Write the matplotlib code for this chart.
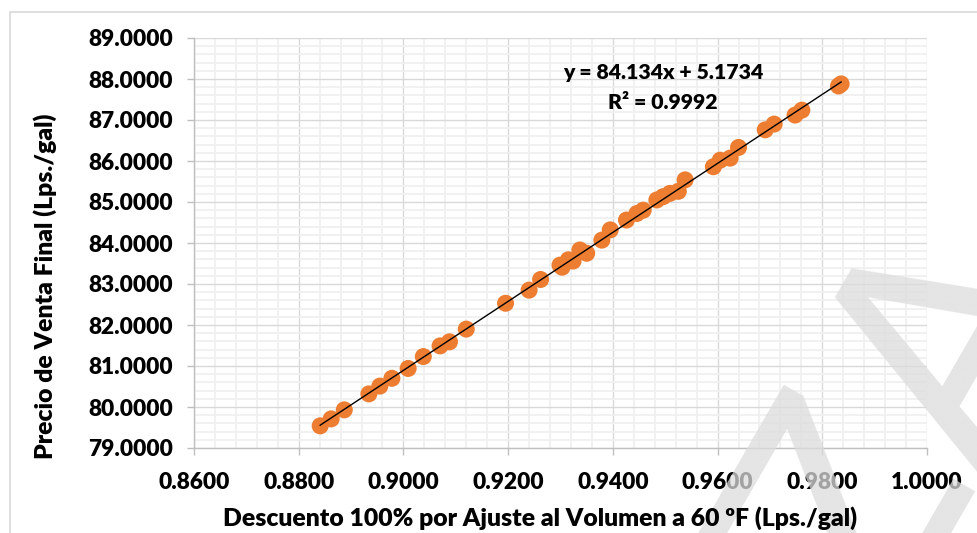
import matplotlib
matplotlib.use("Agg")
import matplotlib.pyplot as plt
import numpy as np
from matplotlib.patches import Rectangle
from matplotlib.ticker import MultipleLocator, FormatStrFormatter

# Descuento por ajuste al volumen a 60 ºF (Lps./gal)
descuento = [
    0.8841, 0.8862, 0.8887, 0.8934, 0.8955, 0.8978, 0.9009, 0.9038, 0.9070, 0.9088,
    0.9120, 0.9195, 0.9240, 0.9262, 0.9299, 0.9303, 0.9315, 0.9324, 0.9337, 0.9350,
    0.9379, 0.9395, 0.9426, 0.9446, 0.9458, 0.9484, 0.9496, 0.9509, 0.9525, 0.9538,
    0.9592, 0.9605, 0.9624, 0.9640, 0.9691, 0.9708, 0.9748, 0.9761, 0.9831, 0.9836,
]
# Precio de venta final (Lps./gal)
precio = [
    79.54, 79.71, 79.93, 80.32, 80.51, 80.70, 80.94, 81.23, 81.49, 81.59,
    81.90, 82.53, 82.85, 83.11, 83.46, 83.41, 83.59, 83.56, 83.83, 83.75,
    84.07, 84.32, 84.56, 84.72, 84.80, 85.05, 85.13, 85.21, 85.26, 85.54,
    85.86, 86.02, 86.07, 86.33, 86.76, 86.90, 87.12, 87.24, 87.83, 87.88,
]

# Linear trendline coefficients
pendiente = 84.134
intercepto = 5.1734
r2 = 0.9992

plt.rcParams["font.family"] = ["Lato", "DejaVu Sans"]
PESO = "heavy"

fig = plt.figure(figsize=(9.77, 5.33), dpi=100)
ax = fig.add_axes([194 / 977, 1 - 448 / 533, (927 - 194) / 977, (448 - 38) / 533])

# Chart-area border
fig.add_artist(Rectangle((10 / 977, -0.1), 1.2, 1 - 12 / 533 + 0.1,
                         transform=fig.transFigure, fill=False,
                         edgecolor="#d9d9d9", linewidth=1.2, zorder=0))

# Watermark
fig.text(0.925, 0.20, "ZA", fontsize=215, color="#dcdcdc", rotation=60,
         ha="center", va="center", family="DejaVu Sans", zorder=1, alpha=0.75)

ax.set_xlim(0.86, 1.0)
ax.set_ylim(79, 89)
ax.xaxis.set_major_locator(MultipleLocator(0.02))
ax.xaxis.set_minor_locator(MultipleLocator(0.004))
ax.yaxis.set_major_locator(MultipleLocator(1))
ax.yaxis.set_minor_locator(MultipleLocator(0.2))
ax.xaxis.set_major_formatter(FormatStrFormatter("%.4f"))
ax.yaxis.set_major_formatter(FormatStrFormatter("%.4f"))

ax.set_facecolor("none")
ax.grid(which="minor", color="#f0f0f0", linewidth=1.3)
ax.grid(which="major", color="#d9d9d9", linewidth=1.0)
ax.set_axisbelow(True)

for s in ["top", "right"]:
    ax.spines[s].set_visible(False)
for s in ["left", "bottom"]:
    ax.spines[s].set_color("#bfbfbf")
    ax.spines[s].set_linewidth(1.0)

ax.tick_params(which="major", length=5, width=1, color="#bfbfbf", direction="out",
               labelsize=16.3)
ax.tick_params(axis="y", pad=10)
ax.tick_params(axis="x", pad=12)
ax.tick_params(which="minor", length=0)
for lab in ax.get_xticklabels() + ax.get_yticklabels():
    lab.set_fontweight(PESO)

ax.scatter(descuento, precio, s=150, color="#ED7D31", edgecolors="none", zorder=3)

xs = np.array([min(descuento), max(descuento)])
ax.plot(xs, pendiente * xs + intercepto, color="black", linewidth=1.0, zorder=4)

fig.text(663 / 977, 1 - 73 / 533, f"y = {pendiente:.3f}x + {intercepto:.4f}",
         ha="center", va="center", fontsize=15.3, fontweight=PESO, zorder=3)
fig.text(663 / 977, 1 - 102 / 533, f"R² = {r2:.4f}",
         ha="center", va="center", fontsize=15.3, fontweight=PESO, zorder=3)

fig.text(540 / 977, 1 - 518 / 533,
         "Descuento 100% por Ajuste al Volumen a 60 ºF (Lps./gal)",
         ha="center", va="center", fontsize=17.8, fontweight=PESO, zorder=3)
fig.text(45 / 977, 1 - 286 / 533, "Precio de Venta Final (Lps./gal)",
         ha="center", va="center", rotation=90, fontsize=17.8, fontweight=PESO,
         zorder=3)

fig.savefig("out.png", dpi=100, facecolor="white")
